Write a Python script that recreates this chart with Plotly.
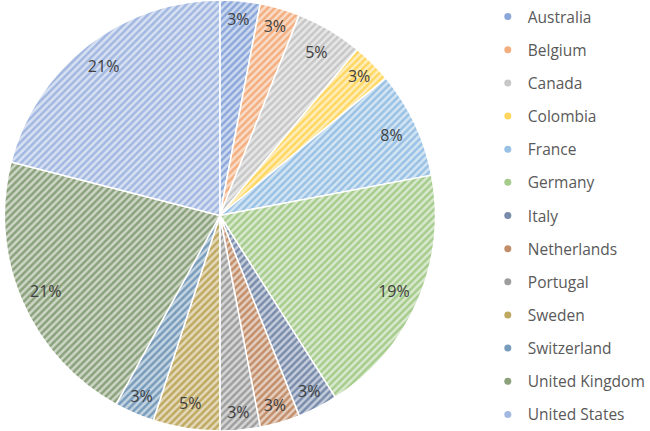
import plotly.graph_objects as go

countries = [
    "Australia", "Belgium", "Canada", "Colombia", "France", "Germany", "Italy",
    "Netherlands", "Portugal", "Sweden", "Switzerland", "United Kingdom", "United States",
]
shares = [3, 3, 5, 3, 8, 19, 3, 3, 3, 5, 3, 21, 21]

# office-style palette; stripes and background are tints of it
BASE = [
    "#4472C4", "#ED7D31", "#A5A5A5", "#FFC000", "#5B9BD5", "#70AD47", "#264478",
    "#9E480E", "#636363", "#997300", "#255E91", "#43682B", "#698ED0",
]


def _tint(hex_color, amount):
    h = hex_color.lstrip("#")
    r, g, b = (int(h[i:i + 2], 16) for i in (0, 2, 4))
    r, g, b = (int(c + (255 - c) * amount) for c in (r, g, b))
    return f"#{r:02x}{g:02x}{b:02x}"


STRIPE = [_tint(c, 0.38) for c in BASE]
BACK = [_tint(c, 0.74) for c in BASE]
TEXT_COLOR = "#404040"
LEGEND_TEXT = "#595959"
FONT = "Open Sans"
PIE_DOMAIN = dict(x=[0, 0.686], y=[0, 1])

fig = go.Figure()

fig.add_trace(
    go.Pie(
        labels=countries,
        values=shares,
        sort=False,
        direction="clockwise",
        rotation=0,
        marker=dict(
            colors=STRIPE,
            line=dict(color="white", width=1.5),
            pattern=dict(shape="/", fillmode="replace", bgcolor=BACK, size=5, solidity=0.5),
        ),
        textinfo="none",
        domain=PIE_DOMAIN,
        showlegend=False,
        hoverinfo="label+percent",
    )
)

# transparent ring on top, only to carry the labels near the rim
fig.add_trace(
    go.Pie(
        labels=countries,
        values=shares,
        sort=False,
        direction="clockwise",
        rotation=0,
        hole=0.76,
        marker=dict(colors=["rgba(0,0,0,0)"] * len(countries), line=dict(width=0)),
        texttemplate="%{percent:.0%}",
        textposition="inside",
        insidetextorientation="horizontal",
        textfont=dict(family=FONT, size=16, color=TEXT_COLOR),
        domain=PIE_DOMAIN,
        showlegend=False,
        hoverinfo="skip",
    )
)

# legend entries, one group each so the gap between them can be widened
for name, col in zip(countries, STRIPE):
    fig.add_trace(
        go.Scatter(
            x=[None], y=[None],
            mode="markers",
            marker=dict(symbol="circle", size=7, color=col),
            name=name,
            legendgroup=name,
            showlegend=True,
        )
    )

fig.update_layout(
    width=650,
    height=431,
    margin=dict(l=0, r=0, t=0, b=0),
    paper_bgcolor="white",
    plot_bgcolor="white",
    xaxis=dict(visible=False),
    yaxis=dict(visible=False),
    font=dict(family=FONT, color=LEGEND_TEXT),
    legend=dict(
        x=0.761, y=1.0, xanchor="left", yanchor="top",
        font=dict(family=FONT, size=15.5, color=LEGEND_TEXT),
        tracegroupgap=10,
        itemwidth=30,
        bgcolor="rgba(0,0,0,0)",
    ),
)

fig.write_html(
    "out.html",
    config={"displayModeBar": False},
    post_script="document.body.style.margin='0';",
)
